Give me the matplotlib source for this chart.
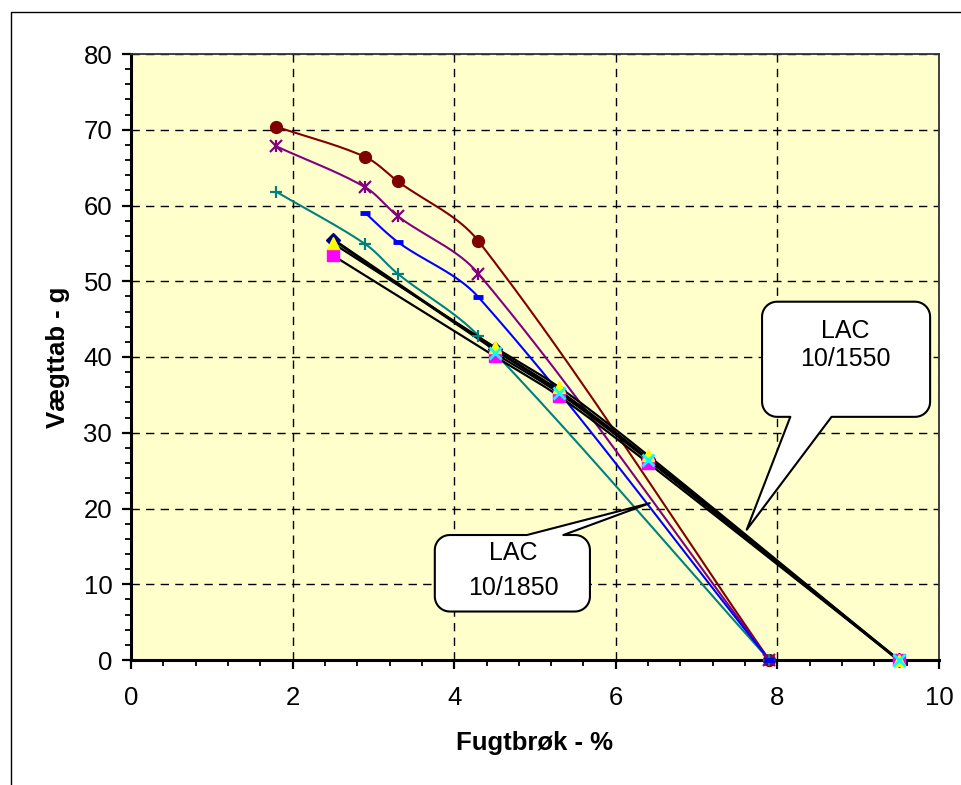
import numpy as np
import matplotlib
matplotlib.use('Agg')
import matplotlib.pyplot as plt
from matplotlib.patches import Polygon
from matplotlib.lines import Line2D

plt.rcParams['font.family'] = ['Liberation Sans', 'DejaVu Sans']

# --- data ---
x_1850 = [1.8, 2.9, 3.3, 4.3, 7.9]
maroon_y = [70.4, 66.4, 63.2, 55.3, 0]
purple_y = [67.8, 62.4, 58.6, 51.0, 0]
teal_y = [61.8, 54.9, 51.0, 42.8, 0]
blue_x = [2.9, 3.3, 4.3, 7.9]
blue_y = [59.0, 55.2, 47.9, 0]

x_1550 = [2.5, 4.5, 5.3, 6.4, 9.5]
diamond_y = [55.5, 41.0, 35.5, 26.6, 0]
triangle_y = [55.0, 41.3, 36.0, 27.0, 0]
square_y = [53.4, 40.1, 34.8, 26.0, 0]
cross_x = [4.5, 5.3, 6.4, 9.5]
cross_y = [40.5, 35.2, 26.4, 0]

xticks = [0, 2, 4, 6, 8, 10]
yticks = [0, 10, 20, 30, 40, 50, 60, 70, 80]

# pixels per data unit (axes is 808 x 606 px)
px_x = 808 / 10.0
px_y = 606 / 80.0


def smooth(xs, ys, n=40, k=0.33):
    # excel-like smoothed line, tangent length limited by chord length
    p = np.column_stack([np.asarray(xs, float) * px_x, np.asarray(ys, float) * px_y])
    p = np.vstack([p[0], p, p[-1]])
    segs = []
    t = np.linspace(0, 1, n)[:, None]
    for i in range(1, len(p) - 2):
        p0, p1, p2, p3 = p[i - 1], p[i], p[i + 1], p[i + 2]
        L = np.hypot(*(p2 - p1))
        d1 = p2 - p0
        d2 = p3 - p1
        d1 = d1 / np.hypot(*d1)
        d2 = d2 / np.hypot(*d2)
        c1 = p1 + d1 * L * k
        c2 = p2 - d2 * L * k
        segs.append((1 - t)**3 * p1 + 3 * (1 - t)**2 * t * c1 + 3 * (1 - t) * t**2 * c2 + t**3 * p2)
    s = np.vstack(segs)
    return s[:, 0] / px_x, s[:, 1] / px_y


fig = plt.figure(figsize=(9.62, 7.85), dpi=100)
ax = fig.add_axes([131 / 962, 1 - 660 / 785, 808 / 962, 606 / 785])
ax.set_facecolor('#FFFFCC')

# outer chart border (only left/top visible)
fig.add_artist(Line2D([11 / 962, 11 / 962, 1], [0, 1 - 12 / 785, 1 - 12 / 785],
                      transform=fig.transFigure, color='black', lw=1))

lw = 1.5
# colored series
for xs, ys, col in [(x_1850, maroon_y, '#800000'), (x_1850, purple_y, '#800080'),
                    (x_1850, teal_y, '#008080'), (blue_x, blue_y, '#0000FF')]:
    sx, sy = smooth(xs, ys)
    ax.plot(sx, sy, color=col, lw=lw, zorder=3, clip_on=False)

# black series
for xs, ys, w in [(x_1550, diamond_y, 2.2), (x_1550, triangle_y, 1.6),
                  (x_1550, square_y, 1.6), (cross_x, cross_y, 1.6)]:
    sx, sy = smooth(xs, ys)
    ax.plot(sx, sy, color='black', lw=w, zorder=3, clip_on=False)

ax.plot(x_1850, maroon_y, 'o', color='#800000', ms=8.5, zorder=5, clip_on=False)
ax.plot(x_1850, purple_y, 'x', color='#800080', ms=9, mew=1.6, zorder=5, clip_on=False)
ax.plot(x_1850, purple_y, '|', color='#800080', ms=9, mew=1.6, zorder=5, clip_on=False)
ax.plot(x_1850, teal_y, '+', color='#008080', ms=9, mew=1.6, zorder=5, clip_on=False)
ax.plot(blue_x, blue_y, '_', color='#0000FF', ms=7, mew=3.5, zorder=5, clip_on=False)

ax.plot(x_1550, diamond_y, 'D', color='#000080', ms=7, zorder=5, clip_on=False)
ax.plot(x_1550, square_y, 's', color='#FF00FF', ms=8, zorder=5, clip_on=False)
ax.plot(x_1550, triangle_y, '^', color='#FFFF00', ms=9, zorder=6, clip_on=False)
ax.plot(cross_x, cross_y, 'x', color='#00FFFF', ms=9, mew=2, zorder=7, clip_on=False)

# axes
ax.set_xlim(0, 10)
ax.set_ylim(0, 80)
ax.set_xticks(xticks)
ax.set_yticks(yticks)
ax.set_xticks(np.arange(0, 10.01, 0.4), minor=True)
ax.set_yticks(np.arange(0, 80.01, 2), minor=True)
ax.tick_params(which='major', direction='out', length=6.5, width=1.6, labelsize=18.5, color='black')
ax.tick_params(axis='x', which='major', pad=12)
ax.tick_params(axis='y', which='major', pad=7)
ax.tick_params(which='minor', direction='out', length=4.5, width=1.3)
ax.grid(True, which='major', color='black', lw=1, linestyle=(0, (6, 4.5)), zorder=1)
ax.set_axisbelow(True)
for s in ['left', 'bottom']:
    ax.spines[s].set_linewidth(2.2)
for s in ['top', 'right']:
    ax.spines[s].set_linewidth(1.3)
    ax.spines[s].set_color('#333333')

ax.set_xlabel('Fugtbrøk - %', fontsize=18.5, fontweight='bold', labelpad=15)
ax.set_ylabel('Vægttab - g', fontsize=18.5, fontweight='bold', labelpad=10)


def callout(x0, y0, x1, y1, wa, wb, tip, side, r=15):
    rx, ry = r / px_x, r / px_y
    pts = []

    def arc(cx, cy, a0, a1):
        a = np.radians(np.linspace(a0, a1, 12))
        return list(zip(cx + rx * np.cos(a), cy + ry * np.sin(a)))

    pts.append((x0 + rx, y0))
    if side == 'bottom':
        pts += [(wa, y0), tip, (wb, y0)]
    pts += arc(x1 - rx, y0 + ry, -90, 0)
    pts += arc(x1 - rx, y1 - ry, 0, 90)
    if side == 'top':
        pts += [(wb, y1), tip, (wa, y1)]
    pts += arc(x0 + rx, y1 - ry, 90, 180)
    pts += arc(x0 + rx, y0 + ry, 180, 270)
    poly = Polygon(pts, closed=True, facecolor='white', edgecolor='black', lw=1.5,
                   zorder=10, clip_on=False, joinstyle='round')
    ax.add_patch(poly)


callout(7.81, 32.1, 9.89, 47.3, 8.16, 8.67, (7.62, 17.2), 'bottom')
ax.text(8.84, 43.4, 'LAC', fontsize=18, ha='center', va='center', zorder=11)
ax.text(8.84, 39.8, '10/1550', fontsize=18, ha='center', va='center', zorder=11)

callout(3.76, 6.4, 5.68, 16.5, 4.90, 5.35, (6.42, 20.7), 'top')
ax.text(4.73, 14.1, 'LAC', fontsize=18, ha='center', va='center', zorder=11)
ax.text(4.73, 9.5, '10/1850', fontsize=18, ha='center', va='center', zorder=11)

plt.savefig('out.png', dpi=100)
